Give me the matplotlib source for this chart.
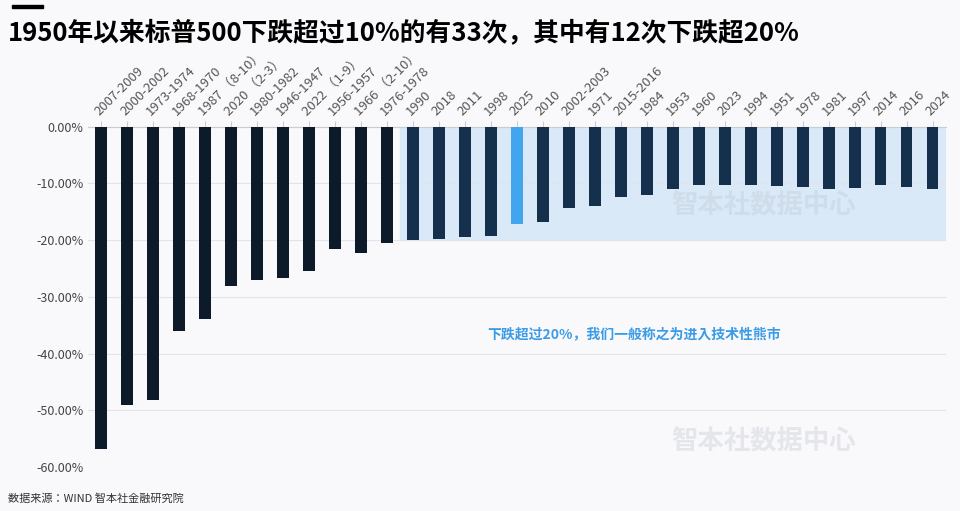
import matplotlib
matplotlib.use("Agg")
import matplotlib.pyplot as plt
from matplotlib.patches import Rectangle
from matplotlib import font_manager as fm

cjk = [f.name for f in fm.fontManager.ttflist if "CJK" in f.name]
fam = "Noto Sans CJK SC" if "Noto Sans CJK SC" in cjk else (cjk[0] if cjk else "DejaVu Sans")
plt.rcParams["font.family"] = "sans-serif"
plt.rcParams["font.sans-serif"] = [fam, "DejaVu Sans"]

categories = ["2007-2009","2000-2002","1973-1974","1968-1970","1987 （8-10）","2020 （2-3）",
              "1980-1982","1946-1947","2022 （1-9）","1956-1957","1966 （2-10）","1976-1978",
              "1990","2018","2011","1998","2025","2010","2002-2003","1971","2015-2016","1984",
              "1953","1960","2023","1994","1951","1978","1981","1997","2014","2016","2024"]
values = [-56.8,-49.1,-48.2,-36.1,-33.9,-28.1,-27.1,-26.6,-25.4,-21.6,-22.2,-20.5,
          -19.9,-19.8,-19.4,-19.3,-17.1,-16.8,-14.4,-13.9,-12.4,-12.0,
          -11.0,-10.2,-10.3,-10.2,-10.5,-10.6,-11.0,-10.8,-10.3,-10.7,-10.9]
yticks = [0,-10,-20,-30,-40,-50,-60]

bg = "#f9f9fb"
fig = plt.figure(figsize=(9.6,5.11), dpi=100, facecolor=bg)
ax = fig.add_axes([0.092, 0.086, 0.893, 0.666], facecolor=bg)
n = len(categories)
x = list(range(n))
colors = []
for i, c in enumerate(categories):
    if c == "2025":
        colors.append("#41a6ee")
    elif i < 12:
        colors.append("#0c1a29")
    else:
        colors.append("#14304d")
ax.add_patch(Rectangle((11.5, -20), n - 11.5, 20, color="#d9e9f8", zorder=0))
ax.bar(x, values, width=0.45, color=colors, zorder=3)
ax.set_xlim(-0.5, n - 0.5)
ax.set_ylim(-60, 0)
ax.set_yticks(yticks)
ax.set_yticklabels([f"{v:.2f}%" for v in yticks], fontsize=9, color="#444")
ax.yaxis.grid(True, color="#e4e4e8", lw=0.8, zorder=0)
ax.set_axisbelow(True)
ax.xaxis.tick_top()
ax.set_xticks(x)
ax.set_xticklabels(categories, rotation=45, ha="left", rotation_mode="anchor", fontsize=9.5, color="#555")
ax.tick_params(axis="x", length=4, color="#ccc", pad=2)
ax.tick_params(axis="y", length=0)
for s in ["left", "right", "bottom"]:
    ax.spines[s].set_visible(False)
ax.spines["top"].set_color("#ccc")

ax.text(20.5, -36.5, "下跌超过20%，我们一般称之为进入技术性熊市", color="#3a9be6",
        fontsize=10, fontweight="bold", ha="center", va="center", zorder=4)
for yy, col in ((-14, "#cfdcea"), (-55.5, "#e4e6ec")):
    ax.text(25.5, yy, "智本社数据中心", color=col, fontsize=19, fontweight="bold",
            ha="center", va="center", zorder=2)

fig.add_artist(Rectangle((0.012, 0.985), 0.033, 0.006, transform=fig.transFigure, color="black"))
fig.text(0.008, 0.935, "1950年以来标普500下跌超过10%的有33次，其中有12次下跌超20%",
         fontsize=18.5, fontweight="bold", va="center", ha="left")
fig.text(0.008, 0.025, "数据来源：WIND 智本社金融研究院", fontsize=8, color="#333", va="center")
fig.savefig("out.png", dpi=100, facecolor=bg)
